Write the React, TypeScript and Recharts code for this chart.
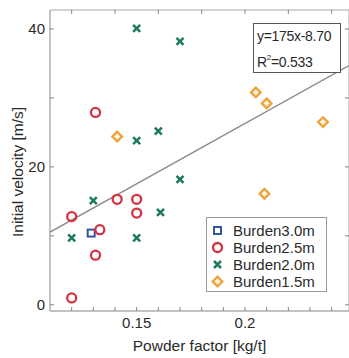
import { ScatterChart, Scatter, XAxis, YAxis, ReferenceLine, Legend, Label } from "recharts";

// axis ranges and ticks
const xDomain: [number, number] = [0.11, 0.248];
const yDomain: [number, number] = [-0.9, 42.75];
const xTicks = [0.12, 0.13, 0.14, 0.15, 0.16, 0.17, 0.18, 0.19, 0.2, 0.21, 0.22, 0.23, 0.24];
const xLabelTicks = [0.15, 0.2];
const yTicks = [0, 10, 20, 30, 40];
const yLabelTicks = [0, 20, 40];

// fitted line shown in the box: y = 175x - 8.70
const fitSlope = 175;
const fitIntercept = -8.7;
const fitText = "y=175x-8.70";
const r2Text = "0.533";

// measured points per burden
const burden30 = [{ x: 0.129, y: 10.4 }];
const burden25 = [
  { x: 0.12, y: 12.8 },
  { x: 0.131, y: 27.9 },
  { x: 0.133, y: 10.9 },
  { x: 0.131, y: 7.2 },
  { x: 0.141, y: 15.3 },
  { x: 0.15, y: 15.3 },
  { x: 0.15, y: 13.3 },
  { x: 0.12, y: 1.0 },
];
const burden20 = [
  { x: 0.15, y: 40.1 },
  { x: 0.17, y: 38.2 },
  { x: 0.16, y: 25.2 },
  { x: 0.15, y: 23.8 },
  { x: 0.17, y: 18.2 },
  { x: 0.13, y: 15.1 },
  { x: 0.161, y: 13.4 },
  { x: 0.12, y: 9.7 },
  { x: 0.15, y: 9.7 },
];
const burden15 = [
  { x: 0.141, y: 24.4 },
  { x: 0.205, y: 30.8 },
  { x: 0.21, y: 29.2 },
  { x: 0.236, y: 26.5 },
  { x: 0.209, y: 16.1 },
];

const series = [
  { name: "Burden3.0m", data: burden30, kind: "square", color: "#2e4f9d" },
  { name: "Burden2.5m", data: burden25, kind: "circle", color: "#d5323f" },
  { name: "Burden2.0m", data: burden20, kind: "x", color: "#1d7b5d" },
  { name: "Burden1.5m", data: burden15, kind: "diamond", color: "#eea03a" },
];

const axisColor = "#858585";
const textColor = "#2a2a2a";
const font = "'Liberation Sans', Arial, sans-serif";

const near = (list: number[], v: number) => list.some((t) => Math.abs(t - v) < 1e-6);

function Marker({ kind, cx, cy, color }: any) {
  if (cx == null || cy == null) return null;
  if (kind === "square") {
    return <rect x={cx - 3.5} y={cy - 3.5} width={7} height={7} fill="none" stroke={color} strokeWidth={1.9} />;
  }
  if (kind === "circle") {
    return <circle cx={cx} cy={cy} r={4.5} fill="none" stroke={color} strokeWidth={2.3} />;
  }
  if (kind === "x") {
    return (
      <path
        d={`M${cx - 3.5},${cy - 3.5}L${cx + 3.5},${cy + 3.5}M${cx + 3.5},${cy - 3.5}L${cx - 3.5},${cy + 3.5}`}
        stroke={color}
        strokeWidth={2.5}
      />
    );
  }
  return (
    <path
      d={`M${cx},${cy - 4.8}L${cx + 4.8},${cy}L${cx},${cy + 4.8}L${cx - 4.8},${cy}Z`}
      fill="#fff4dc"
      stroke={color}
      strokeWidth={2.3}
    />
  );
}

const BottomTick = ({ x, y, payload }: any) => (
  <g>
    <line x1={x} x2={x} y1={y} y2={y - 4} stroke={axisColor} />
    {near(xLabelTicks, payload.value) && (
      <text x={x} y={y + 16.5} textAnchor="middle" fontSize={15} fill={textColor} fontFamily={font}>
        {String(payload.value)}
      </text>
    )}
  </g>
);

const TopTick = ({ x, y }: any) => <line x1={x} x2={x} y1={y} y2={y + 4} stroke={axisColor} />;

const LeftTick = ({ x, y, payload }: any) => (
  <g>
    <line x1={x} x2={x + 4} y1={y} y2={y} stroke={axisColor} />
    {near(yLabelTicks, payload.value) && (
      <text x={x - 5} y={y + 5.4} textAnchor="end" fontSize={15} fill={textColor} fontFamily={font}>
        {String(payload.value)}
      </text>
    )}
  </g>
);

const RightTick = ({ x, y }: any) => <line x1={x} x2={x - 4} y1={y} y2={y} stroke={axisColor} />;

const renderLegend = (props: any) => {
  const names = (props.payload || []).map((e: any) => e.value);
  const items = series.filter((s) => names.includes(s.name));
  return (
    <div
      style={{
        border: "1px solid #9a9a9a",
        background: "#fff",
        width: 119,
        height: 69,
        paddingTop: 4,
        fontFamily: font,
        fontSize: 15,
        color: textColor,
      }}
    >
      {items.map((s) => (
        <div key={s.name} style={{ display: "flex", alignItems: "center", height: 17, lineHeight: "17px" }}>
          <svg width={22} height={17} style={{ display: "block" }}>
            <Marker kind={s.kind} cx={10.5} cy={8.5} color={s.color} />
          </svg>
          <span style={{ marginLeft: 4 }}>{s.name}</span>
        </div>
      ))}
    </div>
  );
};

export default function App() {
  const fit = (x: number) => fitSlope * x + fitIntercept;
  return (
    <div style={{ position: "absolute", left: 0, top: 0, width: 349, height: 358, overflow: "hidden", background: "#fff" }}>
      <ScatterChart width={350} height={358} margin={{ top: 9, right: 0, bottom: 0, left: 0 }}>
        <XAxis
          xAxisId="top"
          orientation="top"
          type="number"
          dataKey="x"
          domain={xDomain}
          allowDataOverflow
          ticks={xTicks}
          height={1}
          tickSize={0}
          tickMargin={0}
          tickLine={false}
          axisLine={{ stroke: "#a8a8a8" }}
          tick={<TopTick />}
        />
        <XAxis
          xAxisId="main"
          type="number"
          dataKey="x"
          domain={xDomain}
          allowDataOverflow
          ticks={xTicks}
          interval={0}
          height={47}
          tickSize={0}
          tickMargin={0}
          tickLine={false}
          axisLine={{ stroke: axisColor }}
          tick={<BottomTick />}
          label={{
            value: "Powder factor [kg/t]",
            position: "insideBottom",
            offset: 7,
            fontSize: 15.5,
            fill: textColor,
            fontFamily: font,
          }}
        />
        <YAxis
          yAxisId="main"
          type="number"
          dataKey="y"
          domain={yDomain}
          allowDataOverflow
          ticks={yTicks}
          interval={0}
          width={50}
          tickSize={0}
          tickMargin={0}
          tickLine={false}
          axisLine={{ stroke: axisColor }}
          tick={<LeftTick />}
          label={
            <Label
              content={() => (
                <text
                  transform="translate(23,172) rotate(-90)"
                  textAnchor="middle"
                  fontSize={15.5}
                  fill={textColor}
                  fontFamily={font}
                >
                  Initial velocity [m/s]
                </text>
              )}
            />
          }
        />
        <YAxis
          yAxisId="right"
          orientation="right"
          type="number"
          domain={yDomain}
          allowDataOverflow
          ticks={yTicks}
          width={1}
          tickSize={0}
          tickMargin={0}
          tickLine={false}
          axisLine={{ stroke: "#a8a8a8" }}
          tick={<RightTick />}
        />
        <ReferenceLine
          xAxisId="main"
          yAxisId="main"
          segment={[
            { x: xDomain[0], y: fit(xDomain[0]) },
            { x: xDomain[1], y: fit(xDomain[1]) },
          ]}
          stroke="#858585"
          strokeWidth={1.4}
        />
        {series.map((s) => (
          <Scatter
            key={s.name}
            name={s.name}
            data={s.data}
            xAxisId="main"
            yAxisId="main"
            fill={s.color}
            isAnimationActive={false}
            shape={(p: any) => <Marker kind={s.kind} cx={p.cx} cy={p.cy} color={s.color} />}
          />
        ))}
        <Legend
          layout="vertical"
          align="center"
          verticalAlign="middle"
          content={renderLegend}
          wrapperStyle={{ left: 206, top: 217, width: 121, height: 75 }}
        />
      </ScatterChart>
      <svg width={349} height={358} style={{ position: "absolute", left: 0, top: 0, pointerEvents: "none" }}>
        <rect x={253.5} y={23.5} width={87} height={49} fill="#fff" stroke="#555" strokeWidth={1} />
        <text x={257} y={41} fontSize={14} fill={textColor} fontFamily={font} letterSpacing={-0.3}>
          {fitText}
        </text>
        <text x={257} y={67} fontSize={14} fill={textColor} fontFamily={font} letterSpacing={-0.3}>
          R
          <tspan fontSize={8} dy={-7}>2</tspan>
          <tspan dy={7}>={r2Text}</tspan>
        </text>
      </svg>
    </div>
  );
}
